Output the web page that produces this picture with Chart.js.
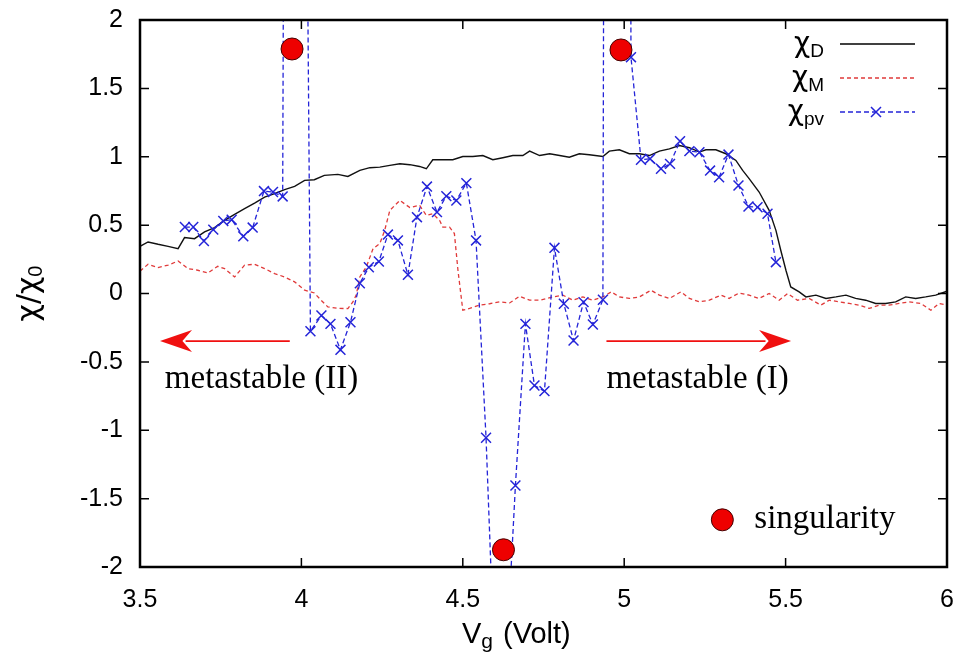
<!DOCTYPE html>
<html lang="en">
<head>
    <meta charset="UTF-8">
    <title>chi / chi0 vs Vg</title>
    <style>
        body {
            margin: 0;
            padding: 0;
            background: #fff;
            overflow: hidden;
        }
        #wrap {
            width: 959px;
            height: 654px;
        }
    </style>
    <script src="https://cdn.jsdelivr.net/npm/chart.js"></script>
</head>
<body>
    <div id="wrap">
        <canvas id="chiChart" width="959" height="654"></canvas>
    </div>

    <script>
        // χ_D (black, solid)
        const xD = [3.5, 3.525, 3.556, 3.587, 3.618, 3.638, 3.669, 3.700, 3.731, 3.762, 3.793, 3.824, 3.855, 3.886, 3.917, 3.948, 3.979,
            4.010, 4.040, 4.071, 4.113, 4.144, 4.181, 4.212, 4.243, 4.274, 4.305, 4.336, 4.366, 4.387, 4.407, 4.438, 4.469,
            4.500, 4.531, 4.562, 4.593, 4.624, 4.655, 4.686, 4.707, 4.738, 4.769, 4.800, 4.830, 4.861, 4.892, 4.934, 4.954, 4.985,
            5.016, 5.047, 5.078, 5.109, 5.140, 5.171, 5.202, 5.233, 5.253, 5.284, 5.315, 5.346, 5.367, 5.387, 5.418, 5.449, 5.470,
            5.485, 5.501, 5.516, 5.542, 5.563, 5.594, 5.625, 5.656, 5.687, 5.717, 5.748, 5.779, 5.810, 5.841, 5.872, 5.903, 5.934, 5.965, 6.0];
        const yD = [0.345, 0.377, 0.360, 0.345, 0.328, 0.409, 0.401, 0.450, 0.482, 0.535, 0.579, 0.620, 0.661, 0.705, 0.730, 0.759, 0.783,
            0.827, 0.832, 0.864, 0.871, 0.856, 0.900, 0.920, 0.924, 0.937, 0.949, 0.942, 0.929, 0.912, 0.978, 0.978, 0.978,
            1.002, 1.002, 1.009, 0.978, 0.993, 1.009, 1.009, 1.041, 1.009, 1.022, 1.009, 0.997, 1.022, 1.015, 1.002, 1.041, 1.051,
            1.022, 1.022, 1.009, 1.041, 1.058, 1.082, 1.066, 1.034, 1.051, 1.051, 1.022, 0.973, 0.900, 0.840, 0.742, 0.608, 0.462,
            0.316, 0.170, 0.048, 0.012, -0.025, -0.012, -0.036, -0.025, -0.012, -0.036, -0.049, -0.073, -0.073, -0.061, -0.025, -0.036, -0.025, -0.012, 0.017];

        // χ_M (red, dashed)
        const xM = [3.5, 3.525, 3.556, 3.587, 3.618, 3.649, 3.679, 3.710, 3.741, 3.762, 3.793, 3.824, 3.855, 3.886, 3.917, 3.948, 3.979,
            4.010, 4.040, 4.061, 4.082, 4.113, 4.144, 4.160, 4.170, 4.181, 4.201, 4.222, 4.243, 4.258, 4.274, 4.305, 4.336, 4.366,
            4.387, 4.407, 4.428, 4.438, 4.459, 4.474, 4.485, 4.500, 4.521, 4.552, 4.583, 4.614, 4.645, 4.676, 4.707, 4.738,
            4.779, 4.810, 4.841, 4.872, 4.903, 4.934, 4.960, 4.985, 5.016, 5.047, 5.083, 5.109, 5.140, 5.176, 5.202, 5.233, 5.264,
            5.300, 5.325, 5.356, 5.387, 5.418, 5.449, 5.480, 5.506, 5.537, 5.573, 5.609, 5.635, 5.666, 5.697, 5.728, 5.759, 5.790,
            5.820, 5.851, 5.882, 5.919, 5.950, 5.975, 6.0];
        const yM = [0.163, 0.214, 0.190, 0.207, 0.238, 0.182, 0.170, 0.150, 0.199, 0.182, 0.121, 0.207, 0.214, 0.182, 0.146, 0.121, 0.085,
            0.024, 0.004, -0.049, -0.098, -0.109, -0.110, -0.060, -0.010, 0.121, 0.194, 0.328, 0.365, 0.462, 0.608, 0.681, 0.628, 0.645,
            0.572, 0.584, 0.535, 0.486, 0.486, 0.438, 0.170, -0.122, -0.109, -0.085, -0.075, -0.061, -0.069, -0.020, -0.049, -0.049,
            -0.025, -0.012, -0.049, -0.025, -0.049, -0.025, 0.012, -0.025, -0.036, -0.025, 0.024, -0.012, -0.036, 0.012, -0.036, -0.061, -0.049,
            -0.012, -0.036, 0.004, -0.012, -0.036, 0.000, -0.049, 0.000, -0.049, -0.036, -0.085, -0.049, -0.061, -0.073, -0.085, -0.109, -0.085,
            -0.085, -0.073, -0.061, -0.073, -0.122, -0.073, -0.085];

        // χ_pv (blue, dashed with crosses) - the big values sit above/below the frame
        const xPV = [3.639, 3.665, 3.698, 3.727, 3.758, 3.784, 3.820, 3.849, 3.884, 3.912, 3.942, 3.971, 4.000,
            4.028, 4.062, 4.090, 4.121, 4.152, 4.181, 4.209, 4.240, 4.268, 4.299, 4.330, 4.358, 4.389, 4.420, 4.449, 4.480, 4.511,
            4.541, 4.572, 4.602, 4.632, 4.663, 4.694, 4.722, 4.753, 4.784, 4.813, 4.843, 4.874, 4.903, 4.934, 4.963, 4.992,
            5.021, 5.052, 5.080, 5.114, 5.142, 5.173, 5.202, 5.233, 5.266, 5.294, 5.323, 5.354, 5.385, 5.413, 5.444, 5.470];
        const yPV = [0.486, 0.486, 0.384, 0.467, 0.530, 0.540, 0.418, 0.482, 0.749, 0.742, 0.710, 21, 8,
            -0.276, -0.161, -0.222, -0.412, -0.210, 0.075, 0.192, 0.234, 0.431, 0.388, 0.137, 0.558, 0.782, 0.595, 0.712, 0.680, 0.807,
            0.388, -1.055, -2.95, -2.8, -1.404, -0.222, -0.673, -0.714, 0.334, -0.075, -0.344, -0.063, -0.227, -0.046, 30, 30,
            1.728, 0.978, 0.985, 0.912, 0.948, 1.114, 1.041, 1.033, 0.899, 0.850, 1.016, 0.790, 0.636, 0.631, 0.583, 0.229];

        // singularities (red dots)
        const xS = [3.971, 4.990, 4.626];
        const yS = [1.788, 1.781, -1.874];

        const yTicks = [-2, -1.5, -1, -0.5, 0, 0.5, 1, 1.5, 2];
        const xTicks = [3.5, 4, 4.5, 5, 5.5, 6];

        const BLUE = '#2424d8';
        const RED = '#e03a3a';
        const SANS = '"Liberation Sans", Arial, sans-serif';
        const GREEK = '"DejaVu Sans", sans-serif';
        const SERIF = '"Liberation Serif", "Times New Roman", serif';

        const pts = (xs, ys) => xs.map((x, i) => ({ x: x, y: ys[i] }));

        // keep the plot box where the reference has it
        const noPad = s => {
            s.paddingTop = 0; s.paddingBottom = 0;
            s.paddingLeft = 0; s.paddingRight = 0;
        };

        // frame + inward ticks on all four sides (gnuplot look)
        const framePlugin = {
            id: 'frame',
            afterDraw(chart) {
                const { ctx, chartArea: a, scales } = chart;
                const tl = 9;
                ctx.save();
                ctx.strokeStyle = '#000';
                ctx.lineWidth = 1.5;
                ctx.beginPath();
                xTicks.forEach(v => {
                    const px = scales.x.getPixelForValue(v);
                    ctx.moveTo(px, a.bottom); ctx.lineTo(px, a.bottom - tl);
                    ctx.moveTo(px, a.top); ctx.lineTo(px, a.top + tl);
                });
                yTicks.forEach(v => {
                    const py = scales.y.getPixelForValue(v);
                    ctx.moveTo(a.left, py); ctx.lineTo(a.left + tl, py);
                    ctx.moveTo(a.right, py); ctx.lineTo(a.right - tl, py);
                });
                ctx.stroke();
                ctx.lineWidth = 2.5;
                ctx.strokeRect(a.left, a.top, a.right - a.left, a.bottom - a.top);
                ctx.restore();
            }
        };

        function subText(ctx, main, sub, x, y, mainFont, subFont, align) {
            ctx.font = mainFont;
            const w1 = ctx.measureText(main).width;
            ctx.font = subFont;
            const w2 = ctx.measureText(sub).width;
            let x0 = x;
            if (align === 'right') x0 = x - w1 - w2;
            if (align === 'center') x0 = x - (w1 + w2) / 2;
            ctx.textAlign = 'left';
            ctx.textBaseline = 'alphabetic';
            ctx.font = mainFont;
            ctx.fillText(main, x0, y);
            ctx.font = subFont;
            ctx.fillText(sub, x0 + w1, y + 5);
            return x0 + w1 + w2;
        }

        function arrow(ctx, x1, y, x2) {
            const dir = Math.sign(x2 - x1);
            const headLen = 32, headW = 11;
            ctx.strokeStyle = '#f01010';
            ctx.fillStyle = '#f01010';
            ctx.lineWidth = 1.6;
            ctx.beginPath();
            ctx.moveTo(x1, y);
            ctx.lineTo(x2 - dir * headLen * 0.8, y);
            ctx.stroke();
            ctx.beginPath();
            ctx.moveTo(x2, y);
            ctx.lineTo(x2 - dir * headLen, y - headW);
            ctx.lineTo(x2 - dir * headLen * 0.7, y);
            ctx.lineTo(x2 - dir * headLen, y + headW);
            ctx.closePath();
            ctx.fill();
        }

        // annotations, legend, axis titles
        const notesPlugin = {
            id: 'notes',
            afterDraw(chart) {
                const { ctx, chartArea: a, scales } = chart;
                const X = v => scales.x.getPixelForValue(v);
                const Y = v => scales.y.getPixelForValue(v);
                ctx.save();

                // arrows + labels
                arrow(ctx, X(3.964), Y(-0.348), X(3.562));
                arrow(ctx, X(4.945), Y(-0.348), X(5.517));
                ctx.fillStyle = '#000';
                ctx.font = '33px ' + SERIF;
                ctx.textAlign = 'left';
                ctx.textBaseline = 'alphabetic';
                ctx.fillText('metastable (II)', X(3.577), Y(-0.69));
                ctx.fillText('metastable (I)', X(4.945), Y(-0.69));

                // singularity key
                ctx.beginPath();
                ctx.arc(X(5.304), Y(-1.655), 11, 0, Math.PI * 2);
                ctx.fillStyle = '#ee0000';
                ctx.fill();
                ctx.lineWidth = 1;
                ctx.strokeStyle = '#400';
                ctx.stroke();
                ctx.fillStyle = '#000';
                ctx.font = '33px ' + SERIF;
                ctx.textBaseline = 'middle';
                ctx.fillText('singularity', X(5.403), Y(-1.655));

                // series key
                const keyX1 = 840, keyX2 = 915, txtR = 824;
                const rows = [
                    { s: 'D', y: 44, color: '#000', dash: [] },
                    { s: 'M', y: 78, color: RED, dash: [4, 3] },
                    { s: 'pv', y: 112, color: BLUE, dash: [5, 3] }
                ];
                rows.forEach((r, i) => {
                    ctx.fillStyle = '#000';
                    subText(ctx, 'χ', r.s, txtR, r.y + 8, '28px ' + GREEK, '19px ' + SANS, 'right');
                    ctx.strokeStyle = r.color;
                    ctx.lineWidth = 1.3;
                    ctx.setLineDash(r.dash);
                    ctx.beginPath();
                    ctx.moveTo(keyX1, r.y);
                    ctx.lineTo(keyX2, r.y);
                    ctx.stroke();
                    ctx.setLineDash([]);
                    if (i === 2) {
                        ctx.lineWidth = 1.5;
                        ctx.beginPath();
                        ctx.moveTo(876 - 5, r.y - 5); ctx.lineTo(876 + 5, r.y + 5);
                        ctx.moveTo(876 - 5, r.y + 5); ctx.lineTo(876 + 5, r.y - 5);
                        ctx.stroke();
                    }
                });

                // x title
                ctx.fillStyle = '#000';
                const gEnd = subText(ctx, 'V', 'g', 462, 643, '29px ' + SANS, '21px ' + SANS, 'left');
                ctx.font = '29px ' + SANS;
                ctx.textAlign = 'left';
                ctx.fillText(' (Volt)', gEnd + 2, 643);

                // y title
                ctx.translate(38, (a.top + a.bottom) / 2);
                ctx.rotate(-Math.PI / 2);
                ctx.font = '30px ' + GREEK;
                const w = ctx.measureText('χ/χ').width;
                ctx.font = '20px ' + SANS;
                const w0 = ctx.measureText('0').width;
                ctx.font = '30px ' + GREEK;
                ctx.textAlign = 'left';
                ctx.textBaseline = 'alphabetic';
                ctx.fillText('χ/χ', -(w + w0) / 2, 0);
                ctx.font = '20px ' + SANS;
                ctx.fillText('0', -(w + w0) / 2 + w, 4);

                ctx.restore();
            }
        };

        const ctx = document.getElementById('chiChart').getContext('2d');
        new Chart(ctx, {
            type: 'line',
            data: {
                datasets: [
                    {
                        label: 'singularity',
                        data: pts(xS, yS),
                        showLine: false,
                        pointRadius: 11,
                        pointBackgroundColor: '#ee0000',
                        pointBorderColor: '#400',
                        pointBorderWidth: 1
                    },
                    {
                        label: 'χpv',
                        data: pts(xPV, yPV),
                        borderColor: BLUE,
                        borderWidth: 1.3,
                        borderDash: [5, 3],
                        pointStyle: 'crossRot',
                        pointRadius: 7,
                        pointBorderColor: BLUE,
                        pointBorderWidth: 1.5,
                        tension: 0
                    },
                    {
                        label: 'χM',
                        data: pts(xM, yM),
                        borderColor: RED,
                        borderWidth: 1.3,
                        borderDash: [4, 3],
                        pointRadius: 0,
                        tension: 0
                    },
                    {
                        label: 'χD',
                        data: pts(xD, yD),
                        borderColor: '#111',
                        borderWidth: 1.4,
                        pointRadius: 0,
                        tension: 0
                    }
                ]
            },
            options: {
                responsive: false,
                animation: false,
                events: [],
                layout: { padding: { top: 20, right: 11, left: 0, bottom: 0 } },
                plugins: {
                    legend: { display: false },
                    tooltip: { enabled: false }
                },
                scales: {
                    x: {
                        type: 'linear',
                        min: 3.5,
                        max: 6,
                        afterFit: s => { s.height = 87; noPad(s); },
                        afterBuildTicks: s => { s.ticks = xTicks.map(v => ({ value: v })); },
                        grid: { display: false, drawTicks: false },
                        border: { display: false },
                        ticks: {
                            padding: 18,
                            color: '#000',
                            font: { family: SANS, size: 25 },
                            maxRotation: 0,
                            callback: v => String(v)
                        }
                    },
                    y: {
                        type: 'linear',
                        min: -2,
                        max: 2,
                        afterFit: s => { s.width = 140; noPad(s); },
                        afterBuildTicks: s => { s.ticks = yTicks.map(v => ({ value: v })); },
                        grid: { display: false, drawTicks: false },
                        border: { display: false },
                        ticks: {
                            padding: 17,
                            color: '#000',
                            font: { family: SANS, size: 25 },
                            callback: v => String(v)
                        }
                    }
                }
            },
            plugins: [framePlugin, notesPlugin]
        });
    </script>
</body>
</html>
